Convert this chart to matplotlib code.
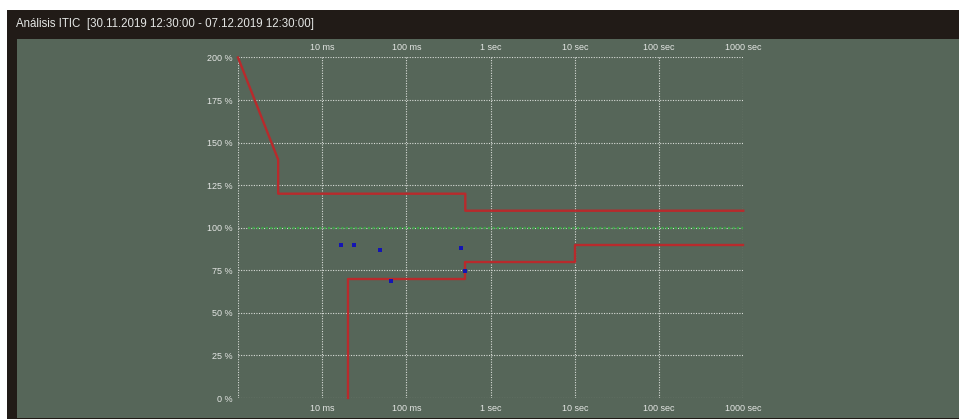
import matplotlib
matplotlib.use("Agg")
import matplotlib.pyplot as plt
from matplotlib.patches import Rectangle

plt.rcParams["font.family"] = ["Liberation Sans", "DejaVu Sans"]

TITLE = "Análisis ITIC  [30.11.2019 12:30:00 - 07.12.2019 12:30:00]"

# ITIC envelope (duration in seconds, voltage in % of nominal)
upper_t = [0.001, 0.003, 0.003, 0.5, 0.5, 1000]
upper_v = [200, 140, 120, 120, 110, 110]
lower_t = [0.02, 0.02, 0.5, 0.5, 10, 10, 1000]
lower_v = [0, 70, 70, 80, 80, 90, 90]
nominal_t = [0.0013, 1000]
nominal_v = [100, 100]

# recorded events
event_t = [0.0167, 0.024, 0.049, 0.065, 0.45, 0.50]
event_v = [90, 90, 87, 69, 88, 74.5]

x_ticks = [0.001, 0.01, 0.1, 1, 10, 100, 1000]
x_labels = ["", "10 ms", "100 ms", "1 sec", "10 sec", "100 sec", "1000 sec"]
y_ticks = [0, 25, 50, 75, 100, 125, 150, 175, 200]
y_labels = [f"{v} %" for v in y_ticks]

W, H = 960, 419
BG = "#566659"
FRAME = "#211b17"
TXT = "#e4e6e4"
GRID = "#d8dcd8"

fig = plt.figure(figsize=(W / 100, H / 100), dpi=100, facecolor="white")

def px_rect(x0, y0, x1, y1, color):
    fig.patches.append(Rectangle((x0 / W, 1 - y1 / H), (x1 - x0) / W, (y1 - y0) / H,
                                 transform=fig.transFigure, facecolor=color,
                                 edgecolor="none", zorder=-2))

px_rect(7, 10, 959, 419, FRAME)
px_rect(17, 39, 959, 417.5, BG)
fig.text(16 / W, 1 - 24 / H, TITLE, color=TXT, fontsize=8.3, va="center", ha="left")

ax = fig.add_axes([238 / W, 1 - 398 / H, (743.3 - 238) / W, (398 - 57.5) / H])
ax.set_zorder(2)
ax.set_facecolor(BG)
ax.set_xscale("log")
ax.set_xlim(0.001, 1000)
ax.set_ylim(0, 200)
for s in ax.spines.values():
    s.set_visible(False)

ax.set_xticks(x_ticks)
ax.set_xticklabels(x_labels)
ax.xaxis.set_minor_locator(matplotlib.ticker.NullLocator())
ax.set_yticks(y_ticks)
ax.set_yticklabels(y_labels)
ax.tick_params(axis="x", top=True, labeltop=True, bottom=True, labelbottom=True,
               length=0, pad=4, labelsize=6.5, colors=TXT)
ax.tick_params(axis="y", length=0, pad=4, labelsize=6.5, colors=TXT)

ax.grid(True, which="major", color=GRID, linestyle=(0, (1, 1.3)), linewidth=0.8)
ax.set_axisbelow(True)

ax.plot(nominal_t, nominal_v, color="#3fa048", linestyle=(0, (1, 1)), linewidth=1.6, zorder=2)
ax.plot(upper_t, upper_v, color="#b82a2c", linewidth=1.7, zorder=3, clip_on=False)
ax.plot(lower_t, lower_v, color="#b82a2c", linewidth=1.7, zorder=3, clip_on=False)
ax.plot(event_t, event_v, linestyle="none", marker="s", markersize=3,
        color="#1414b4", markeredgewidth=0, zorder=4)

fig.savefig("out.png", dpi=100, facecolor="white")
